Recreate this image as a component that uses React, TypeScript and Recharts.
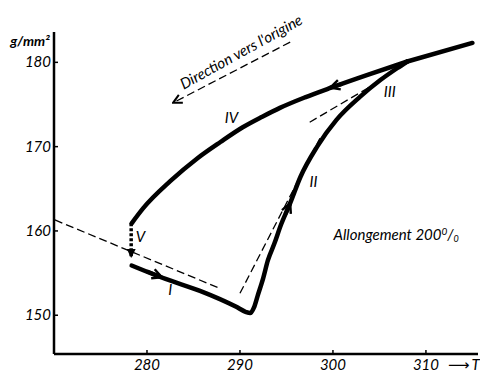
import React from 'react';
import { ComposedChart, Scatter, XAxis, YAxis } from 'recharts';

const xTicks = [280, 290, 300, 310];
const yTicks = [150, 160, 170, 180];

// charge : I, II, III jusqu'au point de jonction
const loadT = [278.35, 282.0, 285.7, 289.6, 290.6, 291.1, 291.5, 291.9, 292.5, 293.0, 293.7, 294.4, 295.4, 296.5, 298.3, 300.4, 302.9, 305.1, 306.9, 308.0];
const loadS = [155.9, 154.3, 152.9, 151.0, 150.4, 150.25, 150.9, 152.3, 154.4, 156.5, 158.5, 160.7, 163.3, 166.4, 170.0, 173.2, 175.9, 177.9, 179.3, 180.1];

// prolongement commun au-delà de la jonction
const topT = [308.0, 315.0];
const topS = [180.1, 182.3];

// retour : IV (rangé par T croissant)
const unloadT = [278.35, 279.6, 282.5, 285.4, 287.9, 290.3, 292.4, 294.3, 297.0, 299.8, 303.8, 308.0];
const unloadS = [160.9, 162.7, 165.9, 168.6, 170.55, 172.3, 173.55, 174.6, 175.85, 177.0, 178.55, 180.1];

// V
const dropT = [278.3, 278.3];
const dropS = [160.9, 156.9];

// tangentes en pointillé
const tanLeftT = [270.1, 287.8];
const tanLeftS = [161.3, 153.2];
const tanIIT = [290.0, 298.6];
const tanIIS = [152.6, 171.0];
const tanIIIT = [297.5, 304.3];
const tanIIIS = [172.9, 177.3];

// flèches sur les courbes
const arrowIT = [280.0, 281.6];
const arrowIS = [155.2, 154.5];
const arrowIIT = [294.9, 295.4];
const arrowIIS = [162.0, 163.3];
const arrowIVT = [301.0, 299.7];
const arrowIVS = [177.45, 177.0];

// direction vers l'origine
const dirT = [295.4, 282.8];
const dirS = [182.4, 175.2];

const labelText = ['I', 'II', 'III', 'IV', 'V'];
const labelT = [282.5, 297.9, 306.1, 289.1, 279.3];
const labelS = [153.0, 165.8, 176.5, 173.4, 159.3];

const noteT = [290.4];
const noteS = [180.7];
const allongT = [306.8];
const allongS = [159.5];

const zip = (xs: number[], ys: number[]) => xs.map((x, i) => ({ x, y: ys[i] }));

const FONT = 'Lato, "Open Sans", sans-serif';

const noDot = () => <g />;

const YTick = ({ x, y, payload }: any) => (
  <g>
    <line x1={x} x2={x + 4} y1={y} y2={y} stroke="#000" strokeWidth={1.5} />
    <text x={x - 3} y={y} dy={5} textAnchor="end" fontSize={15} fontStyle="italic" fontFamily={FONT} fill="#000">
      {payload.value}
    </text>
  </g>
);

const XTick = ({ x, y, payload }: any) => (
  <g>
    <line x1={x} x2={x} y1={y} y2={y - 4} stroke="#000" strokeWidth={1.5} />
    <text x={x} y={y + 16} textAnchor="middle" fontSize={15} fontStyle="italic" fontFamily={FONT} fill="#000">
      {payload.value}
    </text>
    {payload.value === 310 && (
      <text x={x + 22} y={y + 16} fontSize={15} fontFamily={FONT} fill="#000">
        <tspan fontFamily="DejaVu Sans">⟶</tspan>
        <tspan dx={2} fontStyle="italic">T</tspan>
      </text>
    )}
  </g>
);

const YLabel = ({ viewBox }: any) => (
  <text x={viewBox.x + 30} y={viewBox.y + 14} textAnchor="middle" fontSize={14} fontWeight="bold" fontStyle="italic" fontFamily={FONT} fill="#000">
    g/mm²
  </text>
);

const LabelShape = (p: any) => (
  <text x={p.cx} y={p.cy} dy={5} textAnchor="middle" fontSize={15} fontStyle="italic" fontFamily={FONT} fill="#000">
    {p.payload.text}
  </text>
);

const NoteShape = (p: any) => (
  <text x={p.cx} y={p.cy} textAnchor="middle" fontSize={15} fontStyle="italic" fontFamily={FONT} fill="#000" transform={`rotate(-29 ${p.cx} ${p.cy})`}>
    Direction vers l'origine
  </text>
);

const AllongShape = (p: any) => (
  <text x={p.cx} y={p.cy} dy={5} textAnchor="middle" fontSize={15} fontStyle="italic" fontFamily={FONT} fill="#000">
    Allongement 200
    <tspan fontSize={10} dy={-5}>0</tspan>
    <tspan dy={5}>/</tspan>
    <tspan fontSize={9} dy={2}>0</tspan>
  </text>
);

const thick = { stroke: '#000', strokeWidth: 4.5, strokeLinejoin: 'round', strokeLinecap: 'round', fill: 'none' };
const dashed = { stroke: '#000', strokeWidth: 1.3, strokeDasharray: '8 4', fill: 'none' };
const arrow = { stroke: '#000', strokeWidth: 4, fill: 'none', markerEnd: 'url(#chev)' };

export default function App() {
  const labels = labelText.map((text, i) => ({ x: labelT[i], y: labelS[i], text }));
  return (
    <div style={{ position: 'fixed', left: 0, top: 0, background: '#fff' }}>
      <ComposedChart width={480} height={373} margin={{ top: 32, right: 2, bottom: 0, left: 0 }}>
        <defs>
          <marker id="chev" viewBox="0 0 10 10" refX="9" refY="5" markerWidth="12" markerHeight="12" markerUnits="userSpaceOnUse" orient="auto">
            <path d="M1,1 L9,5 L1,9" fill="none" stroke="#000" strokeWidth="2" />
          </marker>
          <marker id="chevThin" viewBox="0 0 10 10" refX="9" refY="5" markerWidth="11" markerHeight="11" markerUnits="userSpaceOnUse" orient="auto">
            <path d="M1,1 L9,5 L1,9" fill="none" stroke="#000" strokeWidth="1.8" />
          </marker>
          <marker id="tri" viewBox="0 0 10 10" refX="9" refY="5" markerWidth="9" markerHeight="9" markerUnits="userSpaceOnUse" orient="auto">
            <path d="M0,0 L10,5 L0,10 Z" fill="#000" />
          </marker>
        </defs>
        <XAxis type="number" dataKey="x" domain={[270, 315.6]} ticks={xTicks} tickSize={0} tickMargin={0} tickLine={false}
          tick={XTick} axisLine={{ stroke: '#000', strokeWidth: 2.5 }} height={19} />
        <YAxis type="number" dataKey="y" domain={[145.4, 183.6]} ticks={yTicks} tickSize={0} tickMargin={0} tickLine={false}
          tick={YTick} axisLine={{ stroke: '#000', strokeWidth: 2.5 }} width={54} label={{ content: YLabel }} />

        <Scatter data={zip(tanLeftT, tanLeftS)} line={dashed} shape={noDot} isAnimationActive={false} />
        <Scatter data={zip(tanIIT, tanIIS)} line={dashed} shape={noDot} isAnimationActive={false} />
        <Scatter data={zip(tanIIIT, tanIIIS)} line={dashed} shape={noDot} isAnimationActive={false} />
        <Scatter data={zip(dirT, dirS)} line={{ ...dashed, markerEnd: 'url(#chevThin)' }} shape={noDot} isAnimationActive={false} />

        <Scatter data={zip(loadT, loadS)} line={thick} lineJointType="monotoneX" shape={noDot} isAnimationActive={false} />
        <Scatter data={zip(unloadT, unloadS)} line={thick} lineJointType="monotoneX" shape={noDot} isAnimationActive={false} />
        <Scatter data={zip(topT, topS)} line={thick} shape={noDot} isAnimationActive={false} />
        <Scatter data={zip(dropT, dropS)} line={{ stroke: '#000', strokeWidth: 3.5, strokeDasharray: '3 2', fill: 'none', markerEnd: 'url(#tri)' }} shape={noDot} isAnimationActive={false} />

        <Scatter data={zip(arrowIT, arrowIS)} line={arrow} shape={noDot} isAnimationActive={false} />
        <Scatter data={zip(arrowIIT, arrowIIS)} line={arrow} shape={noDot} isAnimationActive={false} />
        <Scatter data={zip(arrowIVT, arrowIVS)} line={arrow} shape={noDot} isAnimationActive={false} />

        <Scatter data={labels} shape={LabelShape} isAnimationActive={false} />
        <Scatter data={zip(noteT, noteS)} shape={NoteShape} isAnimationActive={false} />
        <Scatter data={zip(allongT, allongS)} shape={AllongShape} isAnimationActive={false} />
      </ComposedChart>
    </div>
  );
}
